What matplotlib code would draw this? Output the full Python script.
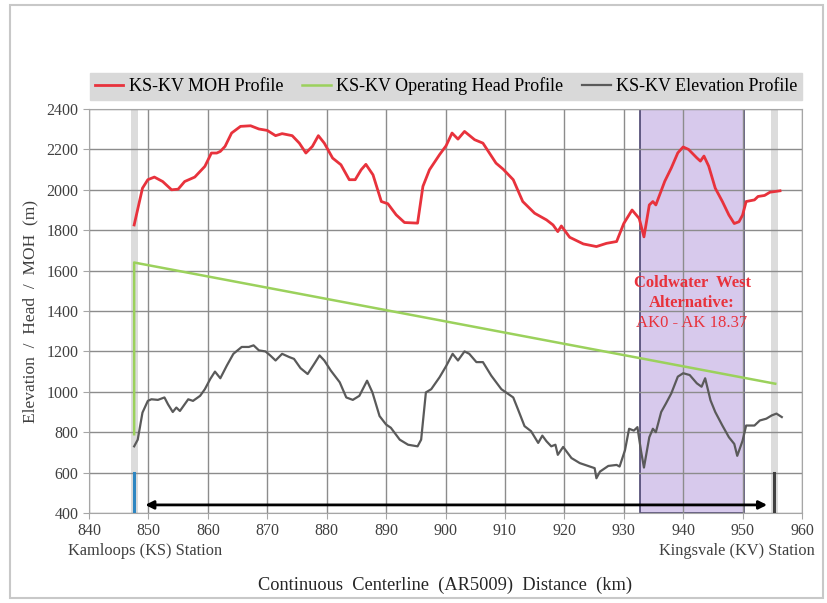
import matplotlib
matplotlib.use("Agg")
import matplotlib.pyplot as plt
from matplotlib.patches import Rectangle
import matplotlib.transforms as mtransforms

plt.rcParams['font.family'] = ['Liberation Serif', 'DejaVu Serif']

# ---- data ----
moh_km = [847.6, 849.0, 849.9, 851.0, 852.4, 853.9, 855.0, 856.1, 857.8, 859.5, 860.6, 861.5,
          862.1, 862.9, 864.0, 865.5, 867.2, 868.6, 870.0, 871.4, 872.5, 874.2, 875.4, 876.5,
          877.6, 878.6, 879.6, 881.0, 882.4, 883.8, 884.8, 885.8, 886.6, 887.8, 889.2, 890.3,
          891.7, 893.1, 895.3, 896.2, 897.3, 899.0, 900.1, 901.1, 902.1, 903.2, 904.9, 906.3,
          908.5, 909.7, 911.4, 913.0, 915.0, 917.0, 918.1, 918.9, 919.5, 920.9, 923.2, 925.4,
          927.1, 928.8, 930.0, 931.4, 932.6, 933.4, 934.3, 934.9, 935.4, 936.9, 938.0, 939.1,
          940.0, 940.9, 942.3, 942.9, 943.5, 944.3, 945.4, 946.6, 947.7, 948.6, 949.4, 950.0,
          950.6, 952.0, 952.6, 953.7, 954.6, 956.3]
moh_val = [1826, 2008, 2050, 2063, 2041, 2000, 2003, 2041, 2063, 2116, 2182, 2182,
           2190, 2215, 2281, 2314, 2317, 2301, 2294, 2268, 2278, 2268, 2231, 2182,
           2215, 2268, 2231, 2157, 2124, 2050, 2050, 2099, 2126, 2074, 1942, 1931,
           1876, 1838, 1835, 2017, 2099, 2174, 2218, 2281, 2251, 2289, 2248, 2231,
           2132, 2102, 2050, 1942, 1884, 1851, 1826, 1793, 1821, 1765, 1732, 1719,
           1735, 1744, 1833, 1900, 1858, 1767, 1925, 1942, 1925, 2042, 2108, 2183,
           2212, 2200, 2158, 2142, 2167, 2117, 2008, 1942, 1875, 1833, 1842, 1875,
           1942, 1950, 1967, 1972, 1988, 1995]

elev_km = [847.6, 848.2, 849.0, 849.9, 850.5, 851.6, 852.7, 853.3, 854.1, 854.7, 855.3, 856.7,
           857.5, 858.7, 859.5, 860.4, 861.2, 862.1, 863.2, 864.3, 865.7, 866.9, 867.7, 868.6,
           869.7, 870.5, 871.4, 872.5, 873.7, 874.5, 875.6, 876.8, 877.9, 878.8, 879.6, 880.7,
           882.2, 883.3, 884.4, 885.5, 886.8, 887.7, 888.9, 890.0, 890.8, 892.3, 893.7, 895.3,
           895.9, 896.7, 897.6, 899.0, 900.1, 901.2, 902.1, 903.2, 904.0, 905.2, 906.3, 907.7,
           909.4, 911.4, 912.2, 913.3, 914.4, 915.6, 916.3, 917.0, 917.8, 918.5, 918.9, 919.8,
           921.2, 922.6, 924.0, 925.1, 925.4, 926.0, 927.4, 928.8, 929.3, 930.2, 930.9, 931.7,
           932.3, 932.9, 933.4, 934.3, 934.9, 935.4, 936.3, 937.1, 938.0, 939.1, 940.0, 941.1,
           942.3, 943.1, 943.7, 944.6, 945.4, 946.6, 947.7, 948.6, 949.1, 950.0, 950.6, 952.0,
           952.9, 954.0, 954.9, 955.7, 956.6]
elev_val = [730, 763, 897, 955, 963, 960, 972, 938, 900, 922, 905, 963,
            955, 980, 1013, 1063, 1100, 1067, 1130, 1188, 1222, 1222, 1230, 1205,
            1200, 1180, 1155, 1188, 1172, 1163, 1117, 1088, 1138, 1180, 1155, 1105,
            1047, 972, 960, 980, 1055, 997, 880, 838, 822, 763, 738, 730,
            763, 997, 1013, 1072, 1127, 1188, 1155, 1200, 1188, 1147, 1147, 1080,
            1013, 972, 913, 830, 805, 747, 783, 755, 730, 738, 688, 727,
            672, 647, 633, 622, 572, 605, 633, 638, 630, 710, 817, 808,
            825, 708, 625, 775, 817, 800, 900, 942, 992, 1075, 1092, 1083,
            1042, 1025, 1067, 958, 900, 833, 775, 742, 683, 758, 833, 833,
            858, 867, 883, 892, 875]

head_km = [847.6, 847.6, 955.5]
head_val = [790, 1640, 1040]

ks_km = 847.6
kv_km = 955.3
alt_start, alt_end = 932.8, 950.3
arrow_start, arrow_end = 849.0, 954.6
arrow_y = 440

xticks = list(range(840, 961, 10))
yticks = list(range(400, 2401, 200))

# ---- figure ----
W, H = 827, 603
fig = plt.figure(figsize=(W / 100, H / 100), dpi=100)
fig.patch.set_facecolor('white')
fig.add_artist(Rectangle((10 / W, 1 - 598 / H), 813 / W, 593 / H, transform=fig.transFigure,
                         fill=False, edgecolor='#c8c8c8', lw=1.5))

ax = fig.add_axes([89 / W, 1 - 513 / H, 713 / W, 404 / H])
ax.set_xlim(840, 960)
ax.set_ylim(400, 2400)
ax.set_xticks(xticks)
ax.set_yticks(yticks)
ax.set_axisbelow(True)
ax.grid(True, color='#8c8c8c', lw=1.0)
for s in ax.spines.values():
    s.set_color('#a6a6a6')
ax.tick_params(axis='both', colors='#a6a6a6', labelcolor='#404040', labelsize=11.5, length=4)

# shaded areas
ax.axvspan(alt_start, alt_end, facecolor='#d7c9ec', edgecolor='#4a4470', lw=1.2, zorder=0.3)
ax.axvspan(ks_km - 0.6, ks_km + 0.6, facecolor='#dcdcdc', edgecolor='none', zorder=0.4)
ax.axvspan(kv_km - 0.6, kv_km + 0.6, facecolor='#dcdcdc', edgecolor='none', zorder=0.4)

# station markers
ax.plot([ks_km, ks_km], [400, 600], color='#2e86c1', lw=2.2, zorder=3)
ax.plot([kv_km, kv_km], [400, 600], color='#404040', lw=2.2, zorder=3)
ax.annotate('', xy=(arrow_end, arrow_y), xytext=(arrow_start, arrow_y),
            arrowprops=dict(arrowstyle='<|-|>', color='black', lw=2, mutation_scale=12), zorder=3)

l1, = ax.plot(moh_km, moh_val, color='#e8323c', lw=2, label='KS-KV MOH Profile', zorder=4)
l2, = ax.plot(head_km, head_val, color='#9bd15c', lw=1.8, label='KS-KV Operating Head Profile', zorder=4)
l3, = ax.plot(elev_km, elev_val, color='#5a5a5a', lw=1.6, label='KS-KV Elevation Profile', zorder=4)

# annotation
ax.text(941.5, 1540, 'Coldwater  West', color='#e8323c', fontsize=12, fontweight='bold',
        ha='center', va='center', zorder=5)
ax.text(941.5, 1440, 'Alternative:', color='#e8323c', fontsize=12, fontweight='bold',
        ha='center', va='center', zorder=5)
ax.text(941.5, 1340, 'AK0 - AK 18.37', color='#e8323c', fontsize=12,
        ha='center', va='center', zorder=5)

trans = mtransforms.blended_transform_factory(ax.transData, ax.transAxes)
ax.text(849.5, -0.095, 'Kamloops (KS) Station', transform=trans, ha='center', va='center',
        fontsize=11.8, color='#404040')
ax.text(949.0, -0.095, 'Kingsvale (KV) Station', transform=trans, ha='center', va='center',
        fontsize=11.8, color='#404040')

ax.set_xlabel('Continuous  Centerline  (AR5009)  Distance  (km)', fontsize=13.2, color='#262626',
              labelpad=27)
ax.set_ylabel('Elevation  /  Head  /  MOH  (m)', fontsize=12.5, color='#404040', labelpad=6)

leg = fig.legend(handles=[l1, l2, l3], loc='lower left', ncol=3, mode='expand',
                 bbox_to_anchor=(90 / W, 1 - 100 / H, 712 / W, 28 / H),
                 frameon=True, fancybox=False, facecolor='#d9d9d9', edgecolor='#d9d9d9',
                 fontsize=13, handlelength=1.6, handletextpad=0.3, borderaxespad=0,
                 borderpad=0.25)
leg.get_frame().set_alpha(1)

fig.savefig('out.png', dpi=100)
